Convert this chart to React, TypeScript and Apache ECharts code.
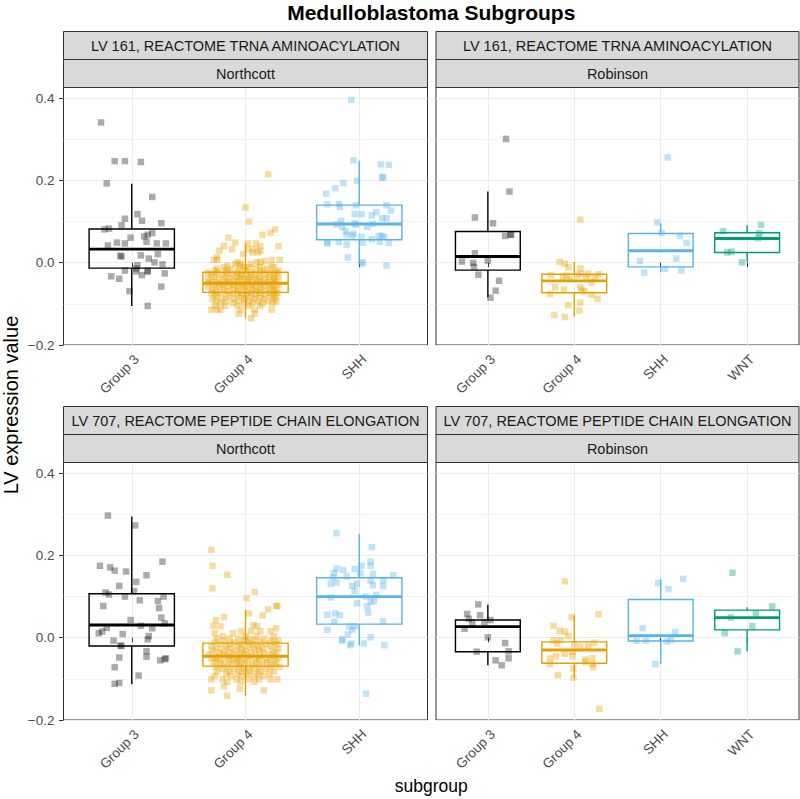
import React, { useEffect, useRef } from 'react';
import * as echarts from 'echarts';

// ---------- DATA ----------
const chartTitle = 'Medulloblastoma Subgroups';
const yTitle = 'LV expression value';
const xTitle = 'subgroup';
const lvTitles = ['LV 161, REACTOME TRNA AMINOACYLATION', 'LV 707, REACTOME PEPTIDE CHAIN ELONGATION'];
const datasetNames = ['Northcott', 'Robinson'];
const northcottCats = ['Group 3', 'Group 4', 'SHH'];
const robinsonCats = ['Group 3', 'Group 4', 'SHH', 'WNT'];
const subgroupColors: Record<string, string> = { 'Group 3': '#000000', 'Group 4': '#E69F00', SHH: '#56B4E9', WNT: '#009E73' };
const yTicks = [-0.2, 0, 0.2, 0.4];
const yMinorTicks = [-0.1, 0.1, 0.3];

// box stats per category: [lower whisker, q1, median, q3, upper whisker]
const box161nc = [[-0.105, -0.013, 0.033, 0.082, 0.192], [-0.135, -0.072, -0.05, -0.023, 0.047], [-0.002, 0.056, 0.094, 0.14, 0.248]];
const box161rb = [[-0.084, -0.018, 0.015, 0.076, 0.173], [-0.131, -0.073, -0.044, -0.028, 0.001], [-0.023, -0.01, 0.029, 0.071, 0.096], [0.001, 0.025, 0.059, 0.073, 0.091]];
const box707nc = [[-0.113, -0.02, 0.031, 0.107, 0.295], [-0.141, -0.069, -0.045, -0.013, 0.067], [-0.018, 0.033, 0.1, 0.146, 0.253]];
const box707rb = [[-0.067, -0.034, 0.027, 0.043, 0.08], [-0.097, -0.062, -0.03, -0.01, 0.054], [-0.064, -0.008, 0.005, 0.093, 0.142], [-0.033, 0.019, 0.049, 0.067, 0.074]];

// jittered points: [jitter offset from category, value]
const p161ncG3 = [[-0.27,0.341],[-0.15,0.247],[-0.06,0.247],[0.08,0.245],[-0.22,0.193],[0.18,0.16],[-0.06,0.107],[0.05,0.118],[0.09,0.102],[-0.24,0.081],[-0.2,0.083],[-0.09,0.091],[0.26,0.096],[-0.01,0.061],[0.11,0.064],[0.14,0.068],[0.18,0.072],[-0.13,0.049],[-0.06,0.047],[-0.21,0.042],[0.13,0.051],[0.22,0.047],[0.3,0.047],[-0.1,0.017],[-0.09,0.015],[0.08,0.018],[0.23,0.021],[0.15,0.01],[0.2,0.001],[0.05,-0.006],[0.27,-0.004],[0.04,-0.014],[-0.06,-0.019],[0.04,-0.021],[0.14,-0.019],[0.14,-0.022],[0.09,-0.03],[0.29,-0.026],[-0.18,-0.033],[-0.11,-0.039],[0.26,-0.058],[-0.02,-0.069],[0.14,-0.105]];
const p161ncG4 = [[0.2,0.215],[0,0.134],[0.03,0.1],[0.26,0.081],[0.22,0.073],[0.15,0.068],[-0.15,0.061],[-0.09,0.049],[0.02,0.047],[0.09,0.047],[-0.19,0.041],[0.13,0.041],[0.29,0.04],[-0.12,0.033],[0.02,0.033],[0.07,0.033],[-0.23,0.029],[0.13,0.029],[0.06,0.025],[0.11,0.025],[-0.02,0.021],[-0.25,0.013],[-0.28,0.007],[-0.25,0.007],[0.23,0.007],[0.3,0.007],[0.17,0.004],[-0.07,0.001],[0.1,0.001],[0.13,0.001],[-0.09,-0.003],[-0.04,-0.003],[0.05,-0.003],[-0.16,-0.007],[-0.05,-0.007],[0.23,-0.007],[-0.19,-0.011],[-0.01,-0.011],[0.03,-0.011],[0.13,-0.011],[0.25,-0.011],[-0.25,-0.015],[-0.13,-0.015],[0.09,-0.015],[0.19,-0.015],[-0.27,-0.019],[-0.17,-0.019],[-0.06,-0.019],[0,-0.019],[0.15,-0.019],[0.29,-0.019],[-0.33,-0.024],[-0.25,-0.024],[-0.16,-0.024],[-0.07,-0.024],[0.05,-0.024],[0.13,-0.024],[0.22,-0.024],[0.27,-0.024],[-0.3,-0.029],[-0.2,-0.029],[-0.11,-0.029],[-0.03,-0.029],[0.01,-0.029],[0.08,-0.029],[0.18,-0.029],[0.25,-0.029],[-0.27,-0.034],[-0.17,-0.034],[-0.08,-0.034],[-0.04,-0.034],[0.04,-0.034],[0.12,-0.034],[0.21,-0.034],[0.29,-0.034],[-0.33,-0.039],[-0.23,-0.039],[-0.14,-0.039],[-0.05,-0.039],[0.02,-0.039],[0.09,-0.039],[0.16,-0.039],[0.25,-0.039],[-0.29,-0.044],[-0.19,-0.044],[-0.1,-0.044],[-0.01,-0.044],[0.06,-0.044],[0.13,-0.044],[0.22,-0.044],[0.27,-0.044],[-0.32,-0.048],[-0.25,-0.048],[-0.16,-0.048],[-0.07,-0.048],[0.02,-0.048],[0.11,-0.048],[0.18,-0.048],[0.25,-0.048],[-0.27,-0.053],[-0.2,-0.053],[-0.11,-0.053],[-0.03,-0.053],[0.05,-0.053],[0.13,-0.053],[0.21,-0.053],[0.29,-0.053],[-0.33,-0.058],[-0.23,-0.058],[-0.14,-0.058],[-0.06,-0.058],[0,-0.058],[0.08,-0.058],[0.16,-0.058],[0.24,-0.058],[-0.29,-0.063],[-0.19,-0.063],[-0.1,-0.063],[-0.01,-0.063],[0.06,-0.063],[0.13,-0.063],[0.22,-0.063],[0.27,-0.063],[-0.26,-0.068],[-0.16,-0.068],[-0.07,-0.068],[0.02,-0.068],[0.1,-0.068],[0.18,-0.068],[0.25,-0.068],[-0.3,-0.073],[-0.22,-0.073],[-0.11,-0.073],[-0.04,-0.073],[0.05,-0.073],[0.12,-0.073],[0.21,-0.073],[0.28,-0.073],[-0.27,-0.077],[-0.17,-0.077],[-0.07,-0.077],[0.01,-0.077],[0.09,-0.077],[0.17,-0.077],[0.25,-0.077],[-0.25,-0.082],[-0.14,-0.082],[-0.04,-0.082],[0.04,-0.082],[0.13,-0.082],[0.22,-0.082],[0.27,-0.082],[-0.29,-0.088],[-0.2,-0.088],[-0.1,-0.088],[-0.01,-0.088],[0.08,-0.088],[0.16,-0.088],[0.25,-0.088],[-0.26,-0.094],[-0.17,-0.094],[-0.06,-0.094],[0.03,-0.094],[0.11,-0.094],[0.2,-0.094],[0.27,-0.094],[-0.22,-0.098],[-0.11,-0.098],[-0.01,-0.098],[0.06,-0.098],[0.15,-0.098],[0.24,-0.098],[-0.27,-0.105],[-0.18,-0.105],[-0.07,-0.105],[0.03,-0.105],[0.13,-0.105],[-0.3,-0.114],[-0.25,-0.114],[-0.22,-0.114],[-0.04,-0.114],[0.08,-0.114],[0.23,-0.114],[-0.06,-0.124],[0.08,-0.124],[0.05,-0.135]];
const p161ncSHH = [[-0.07,0.396],[-0.05,0.249],[0.19,0.239],[0.26,0.238],[-0.14,0.194],[-0.02,0.199],[-0.21,0.181],[-0.29,0.168],[0.2,0.207],[0.21,0.208],[-0.28,0.142],[-0.18,0.143],[-0.17,0.136],[-0.03,0.14],[0.24,0.14],[0.15,0.123],[0.28,0.127],[-0.04,0.119],[0.02,0.118],[0.11,0.115],[0.24,0.108],[-0.16,0.102],[0.2,0.108],[-0.2,0.093],[-0.15,0.087],[-0.04,0.096],[-0.03,0.092],[0.07,0.087],[0.12,0.094],[-0.12,0.077],[-0.11,0.068],[-0.05,0.071],[-0.06,0.066],[0.02,0.063],[0.17,0.065],[0.2,0.066],[0.22,0.063],[0.11,0.057],[-0.18,0.05],[-0.28,0.047],[-0.28,0.05],[-0.11,0.044],[0.03,0.049],[0.18,0.051],[0.26,0.048],[-0.1,0.013],[0.02,-0.002],[0.03,0.001],[0.24,-0.007]];
const p161rbG3 = [[0.21,0.301],[0.25,0.173],[-0.15,0.11],[0.06,0.096],[0.2,0.065],[0.26,0.068],[0.27,0.068],[-0.15,0.023],[-0.3,0.003],[-0.17,0],[0,0.005],[-0.16,-0.01],[-0.11,-0.029],[0.13,-0.044],[0.09,-0.068],[0.03,-0.085]];
const p161rbG4 = [[0.07,0.105],[-0.17,0.002],[-0.11,-0.002],[-0.07,-0.011],[0.07,-0.014],[-0.27,-0.03],[-0.13,-0.035],[-0.09,-0.031],[0.03,-0.031],[0.08,-0.027],[0.16,-0.027],[0.28,-0.028],[0.14,-0.035],[0.24,-0.035],[-0.05,-0.04],[0.2,-0.048],[-0.22,-0.06],[-0.12,-0.065],[0.07,-0.06],[0.09,-0.066],[0.12,-0.069],[0.2,-0.078],[-0.28,-0.076],[0.27,-0.088],[0.07,-0.097],[-0.07,-0.103],[0.06,-0.116],[-0.23,-0.127],[-0.11,-0.132]];
const p161rbSHH = [[0.08,0.256],[-0.04,0.098],[0.01,0.073],[0.22,0.065],[0.3,0.048],[0.18,0.01],[-0.24,0.004],[0.05,-0.015],[-0.19,-0.024],[0.24,-0.019]];
const p161rbWNT = [[0.16,0.092],[0.14,0.072],[-0.28,0.077],[0.13,0.06],[-0.23,0.025],[-0.18,0.027],[-0.06,0.001]];
const p707ncG3 = [[-0.21,0.297],[0.03,0.273],[0.27,0.185],[-0.28,0.175],[-0.19,0.171],[-0.15,0.163],[-0.05,0.161],[0.13,0.152],[0.04,0.136],[-0.11,0.126],[-0.23,0.11],[-0.2,0.105],[0.02,0.113],[-0.06,0.1],[0.28,0.1],[0.07,0.091],[0.23,0.089],[-0.25,0.077],[0.24,0.072],[-0.01,0.043],[0.26,0.049],[0.29,0.035],[0.08,0.029],[-0.22,0.024],[0.18,0.023],[-0.29,0.011],[-0.26,0.015],[-0.08,0.009],[0.15,0.004],[0.14,-0.004],[-0.16,-0.007],[-0.1,-0.019],[-0.09,-0.02],[0.13,-0.033],[0.13,-0.046],[-0.11,-0.048],[0.25,-0.055],[0.29,-0.052],[0.3,-0.05],[-0.15,-0.072],[0.06,-0.092],[-0.15,-0.112],[-0.11,-0.11]];
const p707ncG4 = [[-0.3,0.214],[-0.29,0.175],[-0.16,0.153],[-0.29,0.12],[0.08,0.111],[0.01,0.096],[0.03,0.059],[0.15,0.054],[0.2,0.069],[0.27,0.077],[0.28,0.077],[-0.19,0.05],[-0.26,0.043],[0.07,0.031],[0.1,0.028],[-0.28,0.029],[-0.22,0.028],[0.27,0.023],[-0.04,0.016],[0.05,0.016],[0.13,0.016],[0.22,0.016],[-0.27,0.011],[-0.11,0.011],[-0.2,0.004],[0,0.004],[0.1,0.004],[0.25,0.004],[-0.25,-0.002],[-0.14,-0.002],[-0.06,-0.002],[0.04,-0.002],[0.16,-0.002],[-0.19,-0.007],[-0.01,-0.007],[0.08,-0.007],[0.22,-0.007],[0.29,-0.007],[-0.27,-0.011],[-0.1,-0.011],[0.02,-0.011],[0.13,-0.011],[0.25,-0.011],[-0.22,-0.016],[-0.14,-0.016],[-0.04,-0.016],[0.06,-0.016],[0.18,-0.016],[0.27,-0.016],[-0.3,-0.021],[-0.17,-0.021],[-0.07,-0.021],[0.03,-0.021],[0.11,-0.021],[0.22,-0.021],[-0.25,-0.026],[-0.13,-0.026],[-0.03,-0.026],[0.08,-0.026],[0.15,-0.026],[0.29,-0.026],[-0.29,-0.031],[-0.19,-0.031],[-0.08,-0.031],[0,-0.031],[0.12,-0.031],[0.24,-0.031],[-0.23,-0.036],[-0.14,-0.036],[-0.04,-0.036],[0.05,-0.036],[0.16,-0.036],[0.27,-0.036],[-0.32,-0.041],[-0.19,-0.041],[-0.1,-0.041],[-0.01,-0.041],[0.09,-0.041],[0.21,-0.041],[-0.26,-0.046],[-0.16,-0.046],[-0.06,-0.046],[0.03,-0.046],[0.13,-0.046],[0.25,-0.046],[-0.3,-0.05],[-0.22,-0.05],[-0.11,-0.05],[-0.03,-0.05],[0.08,-0.05],[0.18,-0.05],[0.29,-0.05],[-0.25,-0.055],[-0.14,-0.055],[-0.07,-0.055],[0.02,-0.055],[0.12,-0.055],[0.22,-0.055],[-0.28,-0.06],[-0.19,-0.06],[-0.08,-0.06],[-0.01,-0.06],[0.09,-0.06],[0.19,-0.06],[0.27,-0.06],[-0.22,-0.065],[-0.13,-0.065],[-0.04,-0.065],[0.06,-0.065],[0.15,-0.065],[0.25,-0.065],[-0.26,-0.071],[-0.16,-0.071],[-0.06,-0.071],[0.03,-0.071],[0.12,-0.071],[0.22,-0.071],[0.3,-0.071],[-0.2,-0.076],[-0.1,-0.076],[-0.01,-0.076],[0.08,-0.076],[0.18,-0.076],[-0.25,-0.082],[-0.14,-0.082],[-0.04,-0.082],[0.04,-0.082],[0.13,-0.082],[0.25,-0.082],[-0.17,-0.088],[-0.07,-0.088],[0.02,-0.088],[0.11,-0.088],[0.21,-0.088],[-0.27,-0.093],[-0.13,-0.093],[-0.03,-0.093],[0.08,-0.093],[0.16,-0.093],[-0.3,-0.101],[-0.2,-0.101],[-0.08,-0.101],[0.03,-0.101],[0.12,-0.101],[0.22,-0.101],[0.28,-0.101],[-0.16,-0.107],[-0.04,-0.107],[0.08,-0.107],[-0.19,-0.118],[-0.05,-0.124],[-0.3,-0.128],[0.16,-0.128],[-0.16,-0.141]];
const p707ncSHH = [[-0.2,0.254],[0.11,0.22],[0.1,0.185],[0.1,0.175],[0.02,0.175],[-0.2,0.168],[-0.22,0.157],[-0.14,0.165],[-0.04,0.167],[0.01,0.157],[0.12,0.155],[0.3,0.152],[-0.11,0.149],[-0.23,0.147],[-0.2,0.134],[-0.25,0.131],[0.21,0.139],[0.21,0.126],[0.1,0.139],[0.12,0.128],[-0.06,0.126],[-0.02,0.131],[-0.04,0.114],[-0.25,0.098],[0.06,0.1],[0.15,0.104],[0.1,0.088],[0.13,0.089],[0.07,0.076],[-0.02,0.084],[-0.28,0.056],[-0.21,0.059],[-0.17,0.055],[0.08,0.061],[-0.22,0.039],[0.21,0.04],[-0.09,0.027],[-0.04,0.028],[-0.06,0.019],[-0.28,0.019],[-0.1,0.008],[-0.15,-0.004],[-0.15,-0.007],[-0.07,-0.014],[-0.08,-0.018],[0.04,-0.014],[0.1,0.001],[0.22,-0.018],[0.06,-0.136]];
const p707rbG3 = [[-0.11,0.081],[-0.24,0.058],[-0.09,0.055],[-0.22,0.046],[-0.18,0.037],[-0.04,0.038],[0.03,0.043],[-0.27,0.022],[0,0.001],[0.2,-0.013],[0.24,-0.033],[-0.13,-0.034],[0.24,-0.05],[0.09,-0.055],[0.16,-0.067]];
const p707rbG4 = [[-0.11,0.137],[0.28,0.057],[-0.03,0.05],[-0.24,0.029],[-0.17,0.017],[-0.11,0.015],[-0.07,0.004],[-0.24,-0.006],[-0.16,-0.006],[0,-0.016],[0.23,-0.012],[0.16,-0.02],[-0.2,-0.014],[0.07,-0.022],[-0.02,-0.034],[-0.11,-0.039],[-0.28,-0.05],[-0.21,-0.045],[0.13,-0.053],[0.21,-0.05],[0.13,-0.059],[-0.02,-0.045],[-0.28,-0.064],[-0.01,-0.075],[0.22,-0.072],[0.21,-0.064],[-0.19,-0.091],[-0.01,-0.097],[0.29,-0.173]];
const p707rbSHH = [[0.26,0.143],[-0.03,0.133],[0.09,0.118],[-0.21,0.023],[0.17,0.014],[-0.28,-0.007],[-0.17,-0.007],[0.07,-0.009],[0.12,-0.006],[-0.06,-0.064]];
const p707rbWNT = [[-0.17,0.158],[0.29,0.076],[0.1,0.059],[-0.19,0.049],[0.06,0.028],[-0.26,0.011],[-0.11,-0.033]];

// ---------- LAYOUT ----------
const FONT = '"Liberation Sans", Arial, Helvetica, sans-serif';
const Y_MIN = -0.2;
const Y_MAX = 0.426;
const COL_LEFT = [63.5, 436];
const COL_W = [364, 363];
const ROW_TOP = [87.5, 462.5];
const PANEL_H = 257.5;
const STRIP_H = 28;

type Panel = { row: number; col: number; cats: string[]; boxes: number[][]; points: number[][][] };
const panels: Panel[] = [
  { row: 0, col: 0, cats: northcottCats, boxes: box161nc, points: [p161ncG3, p161ncG4, p161ncSHH] },
  { row: 0, col: 1, cats: robinsonCats, boxes: box161rb, points: [p161rbG3, p161rbG4, p161rbSHH, p161rbWNT] },
  { row: 1, col: 0, cats: northcottCats, boxes: box707nc, points: [p707ncG3, p707ncG4, p707ncSHH] },
  { row: 1, col: 1, cats: robinsonCats, boxes: box707rb, points: [p707rbG3, p707rbG4, p707rbSHH, p707rbWNT] },
];

function fmtY(v: number) {
  const s = Math.abs(v).toFixed(1);
  return v < -1e-9 ? '\u2212' + s : s;
}

function buildOption() {
  const grid: any[] = [];
  const xAxis: any[] = [];
  const yAxis: any[] = [];
  const series: any[] = [];
  const graphic: any[] = [];

  panels.forEach((p, i) => {
    const left = COL_LEFT[p.col];
    const width = COL_W[p.col];
    const top = ROW_TOP[p.row];
    grid.push({ left, top, width, height: PANEL_H, show: true, borderColor: '#333333', borderWidth: 1, backgroundColor: '#ffffff', containLabel: false });
    const catPos = p.cats.map((_, k) => k + 1);
    xAxis.push({
      type: 'value', gridIndex: i, min: 0.4, max: p.cats.length + 0.6,
      axisLine: { show: false },
      axisTick: { show: true, customValues: catPos, length: 4.5, lineStyle: { color: '#333333', width: 1 } },
      axisLabel: {
        show: true, customValues: catPos, rotate: 45, margin: 7,
        formatter: (v: number) => p.cats[Math.round(v) - 1] ?? '',
        color: '#4d4d4d', fontSize: 13.5, fontFamily: FONT, verticalAlign: 'top',
      },
      splitLine: { show: true, lineStyle: { color: '#ebebeb', width: 1.1 } },
    });
    const showY = p.col === 0;
    yAxis.push({
      type: 'value', gridIndex: i, min: Y_MIN, max: Y_MAX,
      axisLine: { show: false },
      axisTick: { show: showY, customValues: yTicks, length: 4.5, lineStyle: { color: '#333333', width: 1 } },
      axisLabel: { show: showY, customValues: yTicks, formatter: fmtY, color: '#4d4d4d', fontSize: 13.5, fontFamily: FONT, margin: 9 },
      splitLine: { show: true, lineStyle: { color: '#ebebeb', width: 1.1 } },
    });
    yAxis.push({
      type: 'value', gridIndex: i, min: Y_MIN, max: Y_MAX, position: 'right',
      axisLine: { show: false },
      axisTick: { show: false, customValues: yMinorTicks },
      axisLabel: { show: false, customValues: yMinorTicks },
      splitLine: { show: true, lineStyle: { color: '#ebebeb', width: 0.55 } },
    });

    // jittered points
    p.cats.forEach((cat, k) => {
      series.push({
        type: 'scatter', xAxisIndex: i, yAxisIndex: 2 * i, silent: true,
        symbol: 'rect', symbolSize: 6.5,
        itemStyle: { color: subgroupColors[cat], opacity: cat === 'Group 3' ? 0.33 : 0.37 },
        data: p.points[k].map(([off, v]) => [k + 1 + off, v]),
        z: 2,
      });
    });

    // boxplots
    series.push({
      type: 'custom', xAxisIndex: i, yAxisIndex: 2 * i, silent: true, z: 3,
      data: p.boxes.map((b, k) => [k + 1, ...b, k]),
      encode: { x: 0, y: [1, 2, 3, 4, 5] },
      renderItem: (params: any, api: any) => {
        const x = api.value(0);
        const color = subgroupColors[p.cats[api.value(6)]];
        const pLow = api.coord([x, api.value(1)]);
        const pQ1 = api.coord([x, api.value(2)]);
        const pMed = api.coord([x, api.value(3)]);
        const pQ3 = api.coord([x, api.value(4)]);
        const pHigh = api.coord([x, api.value(5)]);
        const half = api.size([0.75, 0])[0] / 2;
        const lw = 1.4;
        return {
          type: 'group',
          children: [
            { type: 'line', shape: { x1: pHigh[0], y1: pHigh[1], x2: pQ3[0], y2: pQ3[1] }, style: { stroke: color, lineWidth: lw } },
            { type: 'line', shape: { x1: pQ1[0], y1: pQ1[1], x2: pLow[0], y2: pLow[1] }, style: { stroke: color, lineWidth: lw } },
            { type: 'rect', shape: { x: pQ3[0] - half, y: pQ3[1], width: 2 * half, height: pQ1[1] - pQ3[1] }, style: { fill: 'none', stroke: color, lineWidth: lw } },
            { type: 'line', shape: { x1: pMed[0] - half, y1: pMed[1], x2: pMed[0] + half, y2: pMed[1] }, style: { stroke: color, lineWidth: 2.9 } },
          ],
        };
      },
    });

    // strips
    const s1 = top - 2 * STRIP_H;
    const s2 = top - STRIP_H;
    const cx = left + width / 2;
    graphic.push(
      { type: 'rect', shape: { x: left, y: s1, width, height: STRIP_H }, style: { fill: '#d9d9d9', stroke: '#333333', lineWidth: 1 }, z: 10 },
      { type: 'rect', shape: { x: left, y: s2, width, height: STRIP_H }, style: { fill: '#d9d9d9', stroke: '#333333', lineWidth: 1 }, z: 10 },
      { type: 'text', x: cx, y: s1 + STRIP_H / 2, style: { text: lvTitles[p.row], fill: '#1a1a1a', font: `14.5px ${FONT}`, textAlign: 'center', textVerticalAlign: 'middle' }, z: 11 },
      { type: 'text', x: cx, y: s2 + STRIP_H / 2, style: { text: datasetNames[p.col], fill: '#1a1a1a', font: `14.5px ${FONT}`, textAlign: 'center', textVerticalAlign: 'middle' }, z: 11 },
    );
  });

  const plotCx = (COL_LEFT[0] + COL_LEFT[1] + COL_W[1]) / 2;
  graphic.push(
    { type: 'text', x: plotCx, y: 12, style: { text: chartTitle, fill: '#000000', font: `bold 21px ${FONT}`, textAlign: 'center', textVerticalAlign: 'middle' } },
    { type: 'text', x: plotCx, y: 786, style: { text: xTitle, fill: '#000000', font: `17.5px ${FONT}`, textAlign: 'center', textVerticalAlign: 'middle' } },
    { type: 'text', x: 11, y: 405, rotation: Math.PI / 2, style: { text: yTitle, fill: '#000000', font: `20px ${FONT}`, textAlign: 'center', textVerticalAlign: 'middle' } },
  );

  return { animation: false, backgroundColor: '#ffffff', grid, xAxis, yAxis, series, graphic };
}

export default function App() {
  const ref = useRef<HTMLDivElement>(null);
  useEffect(() => {
    document.body.style.margin = '0';
    if (!ref.current) return;
    const chart = echarts.init(ref.current, undefined, { renderer: 'svg' });
    chart.setOption(buildOption() as any);
    return () => chart.dispose();
  }, []);
  return <div ref={ref} style={{ width: 800, height: 799 }} />;
}
